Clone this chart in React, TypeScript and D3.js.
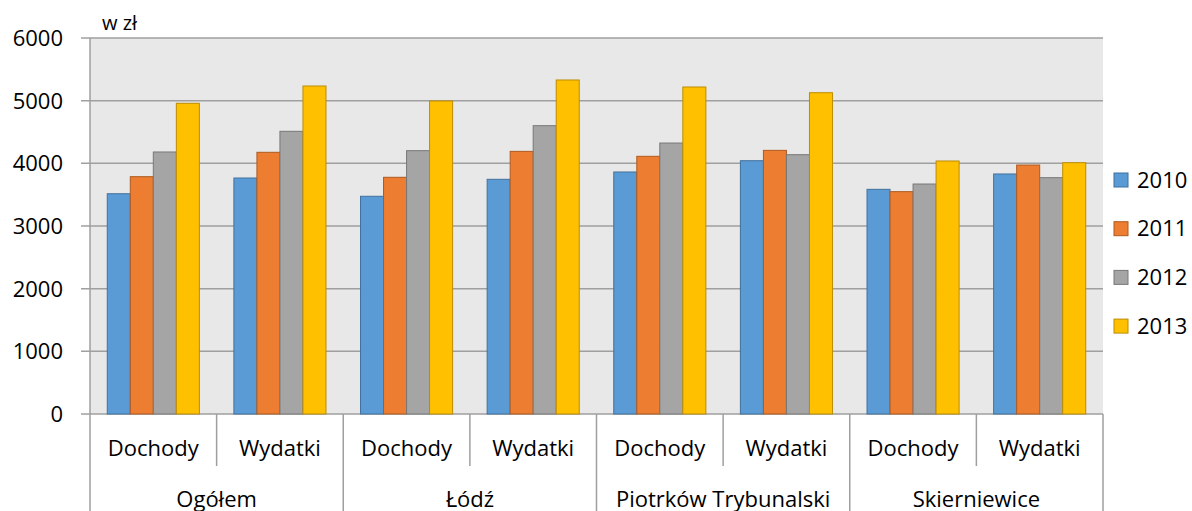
import React from "react";
import * as d3 from "d3";

const regions = ["Ogółem", "Łódź", "Piotrków Trybunalski", "Skierniewice"];
const kinds = ["Dochody", "Wydatki"];
const years = ["2010", "2011", "2012", "2013"];
const yTicks = [0, 1000, 2000, 3000, 4000, 5000, 6000];

// values per year, order: Ogółem D, Ogółem W, Łódź D, Łódź W, Piotrków D, Piotrków W, Skierniewice D, Skierniewice W
const v2010 = [3515, 3766, 3474, 3745, 3862, 4042, 3585, 3830];
const v2011 = [3787, 4176, 3777, 4191, 4112, 4207, 3548, 3973];
const v2012 = [4181, 4511, 4202, 4601, 4324, 4138, 3670, 3771];
const v2013 = [4958, 5234, 4995, 5330, 5218, 5127, 4037, 4010];

const series = [v2010, v2011, v2012, v2013];
const fills = ["#5b9bd5", "#ed7d31", "#a5a5a5", "#ffc000"];
const strokes = ["#41719c", "#ae5a21", "#787878", "#bc8c00"];

const W = 1192, H = 511;
const left = 90, right = 1103, top = 38, bottom = 414;
const FONT = "'Open Sans', sans-serif";
const FS = 22;

export default function App() {
  const cats = regions.flatMap((r) => kinds.map((k) => `${r}|${k}`));
  const x = d3.scaleBand().domain(cats).range([left, right]).paddingInner(0).paddingOuter(0);
  const bw = x.bandwidth();
  const barW = bw / (4 + 1.5);
  const inner = d3.scaleBand().domain(years).range([barW * 0.75, bw - barW * 0.75]).padding(0);
  const y = d3.scaleLinear().domain([0, 6000]).range([bottom, top]);

  return (
    <svg width={W} height={H} style={{ position: "absolute", left: 0, top: 0, background: "#fff" }}>
      <rect x={left} y={top} width={right - left} height={bottom - top} fill="#e8e8e8" />
      {yTicks.map((t) => (
        <g key={t}>
          <line x1={81} x2={right} y1={y(t)} y2={y(t)} stroke="#9f9f9f" strokeWidth={1.5} />
          <text x={63} y={y(t) + 8} textAnchor="end" fontFamily={FONT} fontSize={FS} fill="#000">
            {t}
          </text>
        </g>
      ))}
      <line x1={left} x2={left} y1={top} y2={bottom} stroke="#9f9f9f" strokeWidth={1.5} />
      <text x={102} y={30} fontFamily={FONT} fontSize={20} fill="#000">w zł</text>
      {series.map((vals, si) =>
        vals.map((v, ci) => (
          <rect
            key={`${si}-${ci}`}
            x={(x(cats[ci]) as number) + (inner(years[si]) as number)}
            y={y(v)}
            width={inner.bandwidth()}
            height={y(0) - y(v)}
            fill={fills[si]}
            stroke={strokes[si]}
            strokeWidth={1}
          />
        ))
      )}
      {/* category axis */}
      {cats.map((c, i) => {
        const x0 = x(c) as number;
        const isGroupStart = i % 2 === 0;
        return (
          <g key={c}>
            <line x1={x0} x2={x0} y1={bottom} y2={isGroupStart ? H : 466} stroke="#9f9f9f" strokeWidth={1.5} />
            <text x={x0 + bw / 2} y={456} textAnchor="middle" fontFamily={FONT} fontSize={FS} fill="#000">
              {c.split("|")[1]}
            </text>
          </g>
        );
      })}
      <line x1={right} x2={right} y1={bottom} y2={H} stroke="#9f9f9f" strokeWidth={1.5} />
      {regions.map((r, i) => (
        <text key={r} x={left + (i * 2 + 1) * bw} y={507} textAnchor="middle" fontFamily={FONT} fontSize={FS} fill="#000">
          {r}
        </text>
      ))}
      {/* legend */}
      {years.map((yr, i) => (
        <g key={yr} transform={`translate(1114, ${180 + i * 48.7})`}>
          <rect x={0} y={-7} width={14} height={14} fill={fills[i]} stroke={strokes[i]} strokeWidth={1} />
          <text x={23} y={7.5} fontFamily={FONT} fontSize={FS} fill="#000">{yr}</text>
        </g>
      ))}
    </svg>
  );
}
